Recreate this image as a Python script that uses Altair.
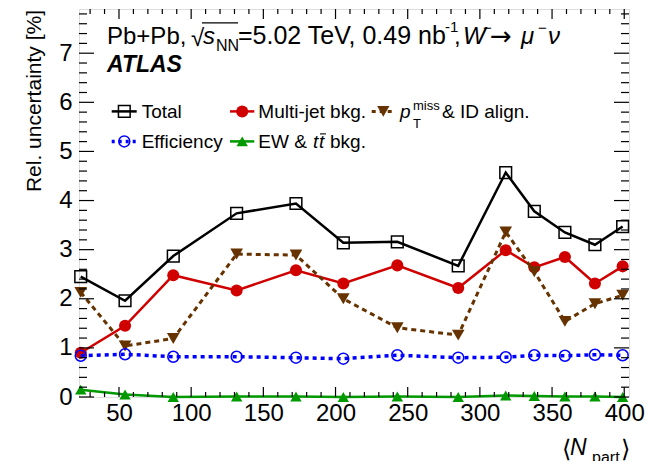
import altair as alt
import pandas as pd

# ---- data ----
npart = [23.5, 54.2, 87.6, 131.5, 172.6, 205.4, 242.8, 285.0, 317.9, 337.7, 358.9, 379.7, 398.9]
total = [2.45, 1.96, 2.87, 3.74, 3.94, 3.14, 3.16, 2.67, 4.57, 3.78, 3.35, 3.10, 3.47]
multijet = [0.90, 1.45, 2.48, 2.17, 2.58, 2.31, 2.68, 2.22, 2.99, 2.64, 2.85, 2.31, 2.66]
ptmiss = [2.13, 1.04, 1.19, 2.91, 2.89, 2.00, 1.41, 1.26, 3.36, 2.55, 1.54, 1.90, 2.07]
efficiency = [0.84, 0.87, 0.82, 0.82, 0.80, 0.78, 0.85, 0.80, 0.81, 0.85, 0.84, 0.86, 0.85]
ew_ttbar = [0.15, 0.05, 0.00, 0.01, 0.01, 0.00, 0.01, 0.00, 0.03, 0.02, 0.01, 0.01, 0.00]

x_labels = [50, 100, 150, 200, 250, 300, 350, 400]
x_minor = [v for v in range(30, 401, 10) if v not in x_labels]
y_labels = [0, 1, 2, 3, 4, 5, 6, 7]
y_minor = [round(i * 0.2, 1) for i in range(0, 40) if i % 5 != 0]

W, H = 550, 388
FONT = "Liberation Sans"

xs = alt.Scale(domain=[22.3, 403.3], nice=False, zero=False)
ys = alt.Scale(domain=[0, 7.9], nice=False, zero=False)
xaxis = alt.Axis(values=x_labels, labelFontSize=24, labelFont=FONT, ticks=False, tickSize=0,
                 domain=False, grid=False, labelPadding=4, labelColor="black", title=None)
yaxis = alt.Axis(values=y_labels, labelFontSize=24, labelFont=FONT, ticks=False, tickSize=0,
                 domain=False, grid=False, labelPadding=7, labelColor="black", title=None)
X = alt.X("x:Q", scale=xs, axis=xaxis)
Y = alt.Y("y:Q", scale=ys, axis=yaxis)

layers = []


def series(vals, color, shape, filled, size, dash=None, width=2.5):
    df = pd.DataFrame({"x": npart, "y": vals})
    base = alt.Chart(df).encode(x=X, y=Y)
    lkw = dict(color=color, strokeWidth=width)
    if dash:
        lkw["strokeDash"] = dash
    line = base.mark_line(**lkw)
    pts = base.mark_point(shape=shape, filled=filled, size=size, color=color,
                          strokeWidth=1.5, opacity=1)
    return [line, pts]


BLACK, RED, BROWN, BLUE, GREEN = "black", "#d00000", "#663300", "#0000ff", "#009a00"

layers += series(total, BLACK, "square", False, 137)
layers += series(multijet, RED, "circle", True, 145)
layers += series(ptmiss, BROWN, "triangle-down", True, 160, dash=[5, 4], width=3)
layers += series(efficiency, BLUE, "circle", False, 120, dash=[4, 4], width=3.5)
layers += series(ew_ttbar, GREEN, "triangle-up", True, 130)

# ---- inward ticks (ROOT style) ----
def xticks(vals, length):
    df = pd.DataFrame({"x": vals})
    b = alt.Chart(df).mark_rule(color="black", strokeWidth=1.2)
    return [b.encode(x=X, y=alt.value(H), y2=alt.value(H - length)),
            b.encode(x=X, y=alt.value(0), y2=alt.value(length))]


def yticks(vals, length):
    df = pd.DataFrame({"y": vals})
    b = alt.Chart(df).mark_rule(color="black", strokeWidth=1.2)
    return [b.encode(y=Y, x=alt.value(0), x2=alt.value(length)),
            b.encode(y=Y, x=alt.value(W), x2=alt.value(W - length))]


layers += xticks(x_labels, 10) + xticks(x_minor, 5)
layers += yticks(y_labels, 15) + yticks(y_minor, 8)

# ---- text helpers ----
_one = pd.DataFrame({"t": [""]})


def txt(s, x, y, size, style="normal", weight="normal", align="left", baseline="alphabetic",
        angle=0, color="black", font=FONT):
    kw = dict(text=s, fontSize=size, fontStyle=style, fontWeight=weight, align=align,
              baseline=baseline, color=color, font=font)
    if angle:
        kw["angle"] = angle
    return alt.Chart(_one).mark_text(**kw).encode(x=alt.value(x), y=alt.value(y))


def hrule(x1, x2, y, color="black", width=1.2, dash=None):
    kw = dict(color=color, strokeWidth=width)
    if dash:
        kw["strokeDash"] = dash
    return alt.Chart(_one).mark_rule(**kw).encode(x=alt.value(x1), x2=alt.value(x2), y=alt.value(y))


def sym(x, y, shape, filled, size, color):
    return alt.Chart(_one).mark_point(shape=shape, filled=filled, size=size, color=color,
                                      strokeWidth=1.5, opacity=1).encode(x=alt.value(x), y=alt.value(y))


# header
hb = 34.7
layers += [
    txt("Pb+Pb,", 28, hb, 24),
    txt("\u221a", 112, hb + 2, 24),
    hrule(123, 159, 13.9, width=1.2),
    txt("s", 124, hb, 24, style="italic"),
    txt("NN", 137, hb + 7.5, 16),
    txt("=5.02 TeV, 0.49 nb", 159, hb, 25),
    txt("-1", 366, hb - 12, 15),
    txt(",", 375, hb, 24),
    txt("W", 384, hb, 24, style="italic"),
    txt("\u2212", 404, hb - 11, 15),
    txt("\u2192", 411, hb + 1, 26, font="DejaVu Sans"),
    txt("\u03bc", 442, hb, 24, style="italic"),
    txt("\u2212", 459, hb - 11, 15),
    txt("\u03bd", 469, hb, 24, style="italic"),
    txt("ATLAS", 28, 62.7, 23, style="italic", weight="bold"),
]

# legend
r1, r2 = 102.4, 132.4
layers += [
    hrule(32.7, 57.7, r1, color=BLACK, width=2.5),
    sym(45.3, r1, "square", False, 137, BLACK),
    txt("Total", 62.7, r1 + 7, 19),
    hrule(151, 175.3, r1, color=RED, width=2.5),
    sym(163.2, r1, "circle", True, 145, RED),
    txt("Multi-jet bkg.", 179.3, r1 + 7, 19),
    hrule(292.7, 316, r1, color=BROWN, width=3, dash=[4, 4]),
    sym(304.3, r1, "triangle-down", True, 150, BROWN),
    txt("p", 321, r1 + 7, 19, style="italic"),
    txt("miss", 334, r1 - 1.7, 13),
    txt("T", 334, r1 + 16.3, 13),
    txt("& ID align.", 363, r1 + 7, 19),
    hrule(32.7, 57.7, r2, color=BLUE, width=3.5, dash=[3, 4]),
    sym(45.3, r2, "circle", False, 120, BLUE),
    txt("Efficiency", 62.7, r2 + 7, 19),
    hrule(151, 175.3, r2, color=GREEN, width=2.5),
    sym(163.2, r2, "triangle-up", True, 130, GREEN),
    txt("EW &", 179.3, r2 + 7, 19),
    txt("t", 234, r2 + 7, 19, style="italic"),
    txt("t", 240, r2 + 7, 19, style="italic"),
    hrule(241, 247, r2 - 7.5, width=1.1),
    txt("bkg.", 251, r2 + 7, 19),
]

# axis titles
layers += [
    txt("Rel. uncertainty [%]", -44, 1, 21, align="right", baseline="middle", angle=270),
    txt("\u27e8", 483, 448, 24, font="DejaVu Sans"),
    txt("N", 491, 446, 23, style="italic"),
    txt("part", 513, 454, 16),
    txt("\u27e9", 542, 448, 24, font="DejaVu Sans"),
]

chart = alt.layer(*layers).properties(
    width=W, height=H,
    autosize=alt.AutoSizeParams(type="none"),
    padding={"left": 71, "top": 1, "right": 18, "bottom": 64},
).configure_view(stroke="black", strokeWidth=2).configure(background="white")

chart.save("out.html", embed_options={"renderer": "svg", "actions": False})
